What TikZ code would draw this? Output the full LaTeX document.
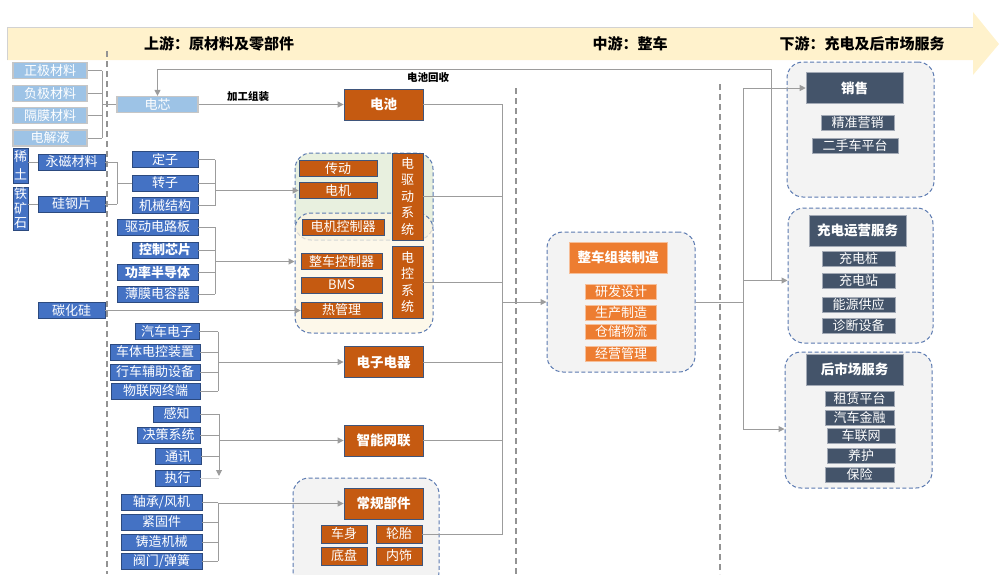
\documentclass[tikz,border=0pt]{standalone}
\usepackage{fontspec}
\setmainfont{Noto Sans CJK SC}
\usepackage{tikz}
\usetikzlibrary{arrows.meta,positioning,calc}

\definecolor{lblue}{HTML}{9DC3E6}
\definecolor{mblue}{HTML}{4472C4}
\definecolor{dorange}{HTML}{C55A11}
\definecolor{lorange}{HTML}{ED7D31}
\definecolor{slate}{HTML}{44546A}
\definecolor{band}{HTML}{FFF2CC}
\definecolor{frame}{HTML}{5A79B0}
\definecolor{conn}{HTML}{9C9C9C}
\definecolor{ggreen}{HTML}{E8F0DF}
\definecolor{gyellow}{HTML}{FDF5E3}
\definecolor{ggrey}{HTML}{F3F3F3}

\begin{document}
\begin{tikzpicture}[x=1pt,y=-1pt,
 box/.style={inner sep=0pt,text=white,font=\fontsize{13}{13}\selectfont},
 lbox/.style={box,fill=lblue,draw=gray!45,line width=1.2pt},
 bbox/.style={box,fill=mblue,draw=mblue!65!black,line width=0.8pt},
 obox/.style={box,fill=dorange,draw=frame!70!black,line width=0.8pt},
 pbox/.style={box,fill=lorange,draw=lorange!50!white,line width=0.6pt},
 sbox/.style={box,fill=slate,draw=slate!50!white,line width=0.6pt},
 hd/.style={font=\bfseries\fontsize{13.5}{13.5}\selectfont},
 vbox/.style={align=center,font=\fontsize{13}{16.5}\selectfont},
 grp/.style={draw=frame,dash pattern=on 4pt off 2.5pt,line width=1pt,rounded corners=16pt,inner sep=0pt},
 link/.style={draw=conn,line width=1pt},
 arr/.style={link,-{Triangle[length=6pt,width=6pt]}},
 divider/.style={draw=gray!85,line width=1.6pt,dash pattern=on 6pt off 4pt},
 lbl/.style={font=\bfseries\fontsize{10.5}{10.5}\selectfont,inner sep=1pt},
 title/.style={font=\bfseries\fontsize{15}{15}\selectfont}]
\useasboundingbox (0,0) rectangle (1000,574);
\clip (0,0) rectangle (1000,574);

\fill[band] (7,27) -- (973,27) -- (973,12) -- (999,44) -- (973,75) -- (973,60) -- (7,60) -- cycle;
\draw[gray!35,line width=1pt] (7,60) -- (7,27) -- (973,27);
\node[title] (up) at (219,44) {上游：原材料及零部件};
\node[title] (mid) at (630,44) {中游：整车};
\node[title] (down) at (862,44) {下游：充电及后市场服务};

\draw[divider] (107,51) -- (107,574);
\draw[divider] (516,88) -- (516,574);
\draw[divider] (720,84) -- (720,574);

\node[grp,fill=ggreen,minimum width=138,minimum height=87] (qdgrp) at (364,196.5) {};
\node[grp,fill=gyellow,fill opacity=0.75,minimum width=138,minimum height=120] (dkgrp) at (364,273) {};
\node[grp,fill=ggrey,minimum width=146,minimum height=110] (cggrp) at (366,533) {};
\node[grp,fill=ggrey,minimum width=148,minimum height=140] (zcgrp) at (621,302) {};
\node[grp,fill=ggrey,minimum width=147,minimum height=135] (xsgrp) at (860.5,129.5) {};
\node[grp,fill=ggrey,minimum width=145,minimum height=135] (cdgrp) at (860.5,275.5) {};
\node[grp,fill=ggrey,minimum width=147,minimum height=136] (hsgrp) at (858.5,420) {};

\foreach \n/\y/\t in {zjcl/70.5/正极材料,fjcl/93.5/负极材料,gmcl/115.5/隔膜材料,djy/138/电解液}
 \node[lbox,minimum width=74,minimum height=16] (\n) at (50,\y) {\t};
\node[lbox,minimum width=81,minimum height=16] (dx) at (157.5,104.5) {电芯};

\node[bbox,vbox,font=\fontsize{13}{18}\selectfont,minimum width=15,minimum height=35] (xt) at (20.5,165.5) {稀\\土};
\node[bbox,vbox,font=\fontsize{13}{14.5}\selectfont,minimum width=15,minimum height=43] (tks) at (20.5,208.5) {铁\\矿\\石};
\foreach \n/\x/\y/\w/\t in {
 ycl/71.5/162/67/永磁材料, ggp/71.5/204/67/硅钢片, thg/71.5/310.5/67/碳化硅,
 dz/165/159.5/66/定子, zz/165/183/66/转子, jxjg/165/205.5/66/机械结构,
 qddl/157.5/227/81/驱动电路板, kzxp/165/250/66/\textbf{控制芯片},
 glbd/157.5/272.5/81/\textbf{功率半导体}, bmdr/157.5/294/81/薄膜电容器,
 qcdz/167/331.5/64/汽车电子, ctdk/155/352/90/车体电控装置,
 xcfz/155/372/90/行车辅助设备, wlw/155.5/391/89/物联网终端,
 gz/176.5/414/47/感知, jcxt/168.5/435/63/决策系统, tx/178/456.5/46/通讯, zx/177.5/478/45/执行,
 zcfj/161.5/502.5/81/{轴承/风机}, jgj/161.5/522/81/紧固件,
 zzjx/161.5/542/81/铸造机械, fmth/161.5/561/81/{阀门/弹簧}}
 \node[bbox,minimum width=\w,minimum height=16] (\n) at (\x,\y) {\t};

\foreach \n/\x/\y/\w/\t in {cd/338/168.5/78/传动, dj/338/190.5/78/电机, djkz/343/227/82/电机控制器,
 zckz/341.5/261.5/81/整车控制器, bms/341.5/285/81/BMS, rgl/341.5/310/81/热管理}
 \node[obox,minimum width=\w,minimum height=16] (\n) at (\x,\y) {\t};
\node[obox,vbox,minimum width=31,minimum height=87] (dqd) at (407.5,196.5) {电\\驱\\动\\系\\统};
\node[obox,vbox,minimum width=31,minimum height=72] (dkx) at (407.5,282) {电\\控\\系\\统};
\foreach \n/\y/\t in {dc/104.5/电池, dzdq/362/电子电器, znwl/440.5/智能网联, cgbj/503.5/常规部件}
 \node[obox,hd,minimum width=79,minimum height=31] (\n) at (383.5,\y) {\t};
\foreach \n/\x/\y/\t in {cs/344/534/车身, lt/399/534/轮胎, dp/344/556/底盘, ns/399/556/内饰}
 \node[obox,minimum width=46,minimum height=18] (\n) at (\x,\y) {\t};

\node[pbox,hd,minimum width=98,minimum height=31] (zczz) at (618,257.5) {整车组装制造};
\foreach \n/\y/\t in {yfsj/292/研发设计, sczz/313/生产制造, ccwl/331.5/仓储物流, jygl/353.5/经营管理}
 \node[pbox,minimum width=71,minimum height=15] (\n) at (621,\y) {\t};

\foreach \n/\x/\y/\t in {xs/854.5/88/销售, cdyy/857.5/230.5/充电运营服务, hsc/854.5/369.5/后市场服务}
 \node[sbox,hd,minimum width=97,minimum height=31] (\n) at (\x,\y) {\t};
\foreach \n/\x/\y/\w/\t in {jzyx/857.5/122.5/73/精准营销, escpt/855/145.5/86/二手车平台,
 cdz/858.5/258.5/73/充电桩, cdzhan/858.5/280.5/73/充电站, nygy/858.5/304.5/73/能源供应, zdsb/858.5/326/73/诊断设备,
 zlpt/859.5/398.5/69/租赁平台, qcjr/859.5/417.5/69/汽车金融, clw/861/435.5/68/车联网, yh/861/455.5/68/养护, bx/859.5/475/69/保险}
 \node[sbox,minimum width=\w,minimum height=15] (\n) at (\x,\y) {\t};

\coordinate (cellbus) at (102,0); \coordinate (magbus) at (117,0);
\coordinate (motbus) at (215,0); \coordinate (elecbus) at (218,0);
\coordinate (netbus) at (219,0); \coordinate (trunk) at (502,0);
\coordinate (dist) at (743,0); \coordinate (recyc) at (771,69);
\coordinate (cdin) at ($(cdgrp.west)+(0,5)$);
\coordinate (hsin) at ($(hsgrp.west)+(0,9)$);

\foreach \n in {zjcl,fjcl,gmcl,djy} \draw[link] (\n.east) -- (\n.east -| cellbus);
\draw[link] (zjcl.east -| cellbus) -- (djy.east -| cellbus);
\draw[link] (cellbus |- dx.west) -- (dx.west);
\draw[arr] (dx.east) -- (dx.east -| dc.west);
\node[lbl] (jgzz) at (248,97) {加工组装};
\draw[arr] (cdin -| recyc) -- (recyc) -| (dx.north);
\node[lbl] (dchs) at (428,78) {电池回收};

\draw[link] (xt.east |- ycl.west) -- (ycl.west);
\draw[link] (tks.east |- ggp.west) -- (ggp.west);
\foreach \n in {ycl,ggp} \draw[link] (\n.east) -- (\n.east -| magbus);
\draw[link] (ycl.east -| magbus) -- (ggp.east -| magbus);
\draw[link] (magbus |- zz.west) -- (zz.west);

\foreach \n in {dz,zz,jxjg,qddl,kzxp,glbd,bmdr} \draw[link] (\n.east) -- (\n.east -| motbus);
\draw[link] (dz.east -| motbus) -- (jxjg.east -| motbus);
\draw[link] (qddl.east -| motbus) -- (bmdr.east -| motbus);
\draw[arr] (motbus |- dj.west) -- (dj.west);
\draw[arr] (motbus |- zckz.west) -- (zckz.west -| dkgrp.west);
\draw[arr] (thg.east) -- (thg.east -| rgl.west);

\foreach \n in {qcdz,ctdk,xcfz,wlw} \draw[link] (\n.east) -- (\n.east -| elecbus);
\draw[link] (qcdz.east -| elecbus) -- (wlw.east -| elecbus);
\draw[arr] (elecbus |- dzdq.west) -- (dzdq.west);

\foreach \n in {gz,jcxt,tx} \draw[link] (\n.east) -- (\n.east -| netbus);
\draw[link,draw=conn!45] (zx.east) -- (zx.east -| netbus);
\draw[arr] (gz.east -| netbus) -- ($(zx.east -| netbus)+(0,-2)$);
\draw[arr] (netbus |- znwl.west) -- (znwl.west);

\foreach \n in {zcfj,jgj,zzjx,fmth} \draw[link] (\n.east) -- (\n.east -| elecbus);
\draw[link] (zcfj.east -| elecbus) -- (fmth.east -| elecbus);
\draw[arr] (elecbus |- cgbj.west) -- (cgbj.west);

\draw[link] (dc.east) -| (trunk |- lt.east) -- (lt.east);
\foreach \n in {dqd,dkx,dzdq,znwl} \draw[link] (\n.east) -- (\n.east -| trunk);
\draw[arr] (trunk |- zcgrp.west) -- (zcgrp.west);

\draw[link] (zcgrp.east) -- (zcgrp.east -| dist);
\draw[arr] (zcgrp.east -| dist) |- (xs.west);
\draw[arr] (zcgrp.east -| dist) |- (cdin);
\draw[arr] (zcgrp.east -| dist) |- (hsin);
\end{tikzpicture}
\end{document}
